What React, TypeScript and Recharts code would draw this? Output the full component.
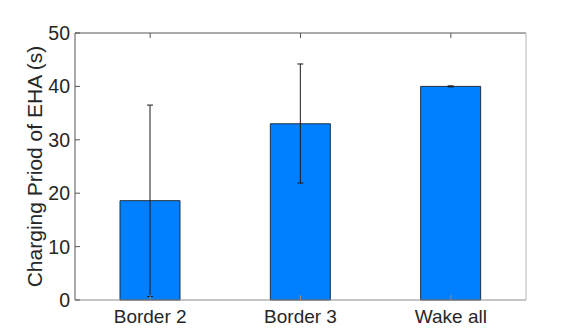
import React from 'react';
import { BarChart, Bar, XAxis, YAxis, ErrorBar } from 'recharts';

const categories = ['Border 2', 'Border 3', 'Wake all'];
const values = [18.6, 33.0, 40.0];
const errMinus = [17.95, 11.1, 0.1];
const errPlus = [17.9, 11.2, 0.1];
const yTicks = [0, 10, 20, 30, 40, 50];
const yLabel = 'Charging Priod of EHA (s)';

const data = categories.map((c, i) => ({
  name: c,
  value: values[i],
  err: [errMinus[i], errPlus[i]],
}));

const FONT = 'Liberation Sans, Arial, Helvetica, sans-serif';
const TXT = '#262626';

const YLabel = (props: any) => {
  const vb = props.viewBox || {};
  const cx = vb.x + 19;
  const cy = vb.y + vb.height / 2;
  return (
    <text
      x={cx}
      y={cy}
      transform={`rotate(-90, ${cx}, ${cy})`}
      textAnchor="middle"
      dominantBaseline="central"
      fontFamily={FONT}
      fontSize={21}
      fill={TXT}
    >
      {yLabel}
    </text>
  );
};

export default function App() {
  return (
    <div style={{ position: 'absolute', left: 0, top: 0, background: '#fff' }}>
      <BarChart
        width={581}
        height={336}
        data={data}
        margin={{ top: 3, right: 25, bottom: 6, left: 15 }}
        barSize={60}
      >
        <XAxis
          dataKey="name"
          xAxisId="bottom"
          orientation="bottom"
          height={30}
          tickSize={-5}
          tickMargin={15}
          stroke="#8c8c8c"
          tick={{ fill: TXT, fontSize: 19, fontFamily: FONT }}
        />
        <XAxis
          dataKey="name"
          xAxisId="top"
          orientation="top"
          height={30}
          tickSize={-5}
          tickFormatter={() => ''}
          stroke="#555555"
        />
        <YAxis
          yAxisId="left"
          domain={[0, 50]}
          ticks={yTicks}
          width={60}
          tickSize={-5}
          tickMargin={10}
          stroke="#555555"
          tick={{ fill: TXT, fontSize: 19.5, fontFamily: FONT }}
          label={<YLabel />}
        />
        <YAxis
          yAxisId="right"
          orientation="right"
          domain={[0, 50]}
          ticks={yTicks}
          width={30}
          tickSize={-5}
          tickFormatter={() => ''}
          stroke="#b5b5b5"
        />
        <Bar
          dataKey="value"
          xAxisId="bottom"
          yAxisId="left"
          fill="#0080ff"
          stroke="#1f2f40"
          strokeWidth={1}
          isAnimationActive={false}
        >
          <ErrorBar dataKey="err" width={3} stroke="#1a1a1a" strokeWidth={1} direction="y" />
        </Bar>
      </BarChart>
    </div>
  );
}
